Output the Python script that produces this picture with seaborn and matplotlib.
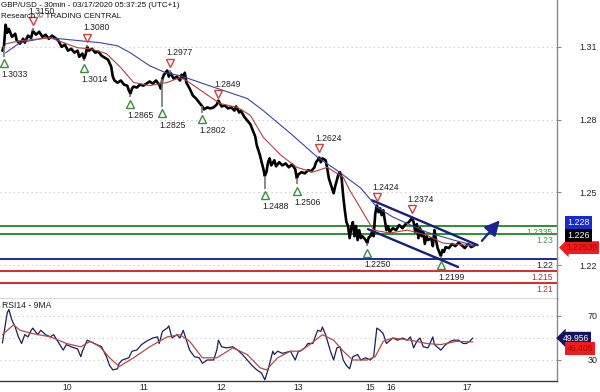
import numpy as np
import pandas as pd
import matplotlib
matplotlib.use("Agg")
import matplotlib.pyplot as plt
import seaborn as sns
from matplotlib.transforms import ScaledTranslation, blended_transform_factory

sns.set_style("white")
plt.rcParams['font.family'] = ['Liberation Sans', 'DejaVu Sans']

# ---------------- data ----------------
title = "GBP/USD - 30min - 03/17/2020 05:37:25 (UTC+1)"
subtitle = "Research \u00a9 TRADING CENTRAL"

price_bar = [0,1,2,3,4,6,8,9,11,13,14,16,18,19,21,23,25,27,29,31,33,35,37,39,41,43,45,47,48,50,
             51,52,53,54,56,58,60,62,64,66,68,69,70,72,74,76,78,79,80,81,82,84,86,88,90,92,94,96,98,99,
             100,101,103,104,105,107,109,111,112,113,114,115,117,119,121,123,125,126,128,130,132,134,135,137,139,141,143,145,146,148,
             149,151,153,155,156,158,159,161,162,163,164,165,166,167,168,170,171,173,175,177,179,181,183,184,185,187,189,191,193,195,
             196,197,198,199,200,202,203,204,206,207,208,209,210,211,212,213,214,215,216,217,218,219,220,221,222,223,224,225,227,228,
             229,230,231,232,233,234,235,236,237,238,239,240,241,242,244,246,248,250,252,254,256,257,258,259,260,261,262,263,264,265,
             266,268,269,270,271,272,273,274,275,276,277,279,281,283,285,287,289,291,293,295]
price_close = [1.3057,1.3077,1.3164,1.3131,1.3147,1.3114,1.3127,1.3098,1.3086,1.3106,1.3090,1.3119,1.3110,1.3139,1.3123,1.3135,1.3114,1.3123,1.3106,1.3119,
               1.3110,1.3098,1.3073,1.3082,1.3057,1.3065,1.3049,1.3057,1.3032,1.3045,1.3024,1.3040,1.3073,1.3057,1.3065,1.3049,1.3053,1.3036,1.3028,1.3020,
               1.2991,1.2950,1.2934,1.2925,1.2934,1.2917,1.2913,1.2893,1.2880,1.2901,1.2909,1.2905,1.2917,1.2913,1.2921,1.2930,1.2921,1.2934,1.2917,1.2901,
               1.2942,1.2958,1.2975,1.2950,1.2966,1.2942,1.2950,1.2934,1.2958,1.2946,1.2966,1.2925,1.2901,1.2872,1.2860,1.2843,1.2827,1.2815,1.2823,1.2819,
               1.2823,1.2835,1.2851,1.2827,1.2831,1.2819,1.2823,1.2810,1.2827,1.2802,1.2810,1.2786,1.2769,1.2753,1.2736,1.2703,1.2666,1.2625,1.2597,1.2572,
               1.2540,1.2556,1.2597,1.2613,1.2584,1.2605,1.2580,1.2597,1.2584,1.2592,1.2576,1.2588,1.2568,1.2531,1.2547,1.2556,1.2551,1.2564,1.2560,1.2576,
               1.2597,1.2605,1.2617,1.2597,1.2613,1.2605,1.2572,1.2531,1.2490,1.2469,1.2498,1.2523,1.2547,1.2556,1.2531,1.2457,1.2399,1.2350,1.2334,1.2284,
               1.2325,1.2350,1.2292,1.2334,1.2276,1.2317,1.2284,1.2292,1.2276,1.2264,1.2288,1.2292,1.2309,1.2292,1.2383,1.2420,1.2391,1.2407,1.2379,1.2399,
               1.2358,1.2317,1.2334,1.2309,1.2325,1.2317,1.2338,1.2325,1.2342,1.2350,1.2366,1.2350,1.2309,1.2342,1.2284,1.2325,1.2292,1.2309,1.2260,1.2292,
               1.2276,1.2284,1.2251,1.2317,1.2276,1.2243,1.2227,1.2210,1.2235,1.2227,1.2247,1.2243,1.2260,1.2251,1.2264,1.2255,1.2243,1.2260,1.2247,1.22536]

ma_fast_bar = [2,11,30,47,55,65,74,82,92,103,111,115,124,136,147,155,163,174,184,194,203,213,217,222,227,232,242,253,265,275,290,295]
ma_fast = [1.3085,1.3098,1.3110,1.3069,1.3065,1.3045,1.2987,1.2926,1.2913,1.2926,1.2946,1.2934,1.2893,1.2839,1.2823,1.2790,
           1.2700,1.2626,1.2576,1.2556,1.2576,1.2535,1.2482,1.2428,1.2371,1.2317,1.2305,1.2317,1.2297,1.2264,1.2255,1.2251]
ma_slow_bar = [2,11,27,36,61,72,80,92,102,111,138,153,163,180,197,209,224,234,244,265,282,294]
ma_slow = [1.3048,1.3090,1.3110,1.3106,1.3090,1.3077,1.3048,1.2995,1.2966,1.2954,1.2893,1.2860,1.2810,1.2716,1.2617,1.2564,
           1.2490,1.2412,1.2371,1.2309,1.2276,1.2255]

pivot_low_bar = [1,51,80,100,125,164,184,228,274]
pivot_low = [1.3033,1.3014,1.2865,1.2825,1.2802,1.2488,1.2506,1.2250,1.2199]
pivot_high_bar = [19,53,105,135,198,234,256]
pivot_high = [1.3150,1.3080,1.2977,1.2849,1.2624,1.2424,1.2374]

levels = [1.2335, 1.23, 1.22, 1.215, 1.21]
level_labels = ["1.2335", "1.23", "1.22", "1.215", "1.21"]
level_colors = ["#2f8f2f", "#2f8f2f", "#1c2a9a", "#d42a2a", "#d42a2a"]
level_text_colors = ["#4a9a4a", "#4a9a4a", "#222244", "#a83a32", "#a83a32"]

channel_upper_bar = [231, 297]
channel_upper = [1.2440, 1.2255]
channel_lower_bar = [228.5, 284.75]
channel_lower = [1.2321, 1.2165]
arrow_bar = [298.5, 312]
arrow_price = [1.2264, 1.2366]

last_price = 1.22536
box_blue, box_black = 1.228, 1.226

rsi_bar = [0,3,4,6,8,10,12,14,16,18,19,22,24,27,30,32,35,38,40,43,47,49,50,53,56,59,62,65,67,69,
           72,73,75,79,81,84,87,90,94,97,98,100,103,104,106,109,111,113,115,117,120,123,125,128,132,134,135,137,140,144,
           147,150,153,156,159,162,164,166,169,170,172,175,180,183,185,186,189,191,194,197,199,200,202,205,207,209,211,213,215,217,
           219,222,224,227,230,232,234,236,238,240,244,247,250,253,255,257,259,261,263,266,269,270,274,277,280,282,285,288,290,292,294]
rsi = [45.5,72.7,76,66,60,51,45,53,51,57,59,53,57,53,51,53,46,39,44,42,40,33,38,48,46,44,42,33,25,21,
       22,27,30,32,38,39,44,47,50,51,45,56,59,61,50,53,50,57,48,39,33,32,27,30,30,39,48,42,41,42,
       39,35,30,25,21,18,12,21,38,35,38,36,38,30,38,38,41,45,45,57,56,60,53,38,30,41,42,30,25,22,
       33,35,30,32,30,33,59,57,54,45,50,48,50,48,51,41,47,50,42,41,51,44,39,44,47,48,48,45,45,47,49.956]
rsi_ma_bar = [0,7,11,19,30,40,49,55,61,67,73,82,92,103,111,117,125,134,144,153,161,165,172,180,186,192,200,207,213,219,
              228,233,238,244,255,265,274,284,294]
rsi_ma = [53,62,57,54,51,45,42,47,42,32,24,32,42,51,53,47,32,32,41,35,23,21,32,38,38,44,53,48,38,30,
          30,33,47,50,48,45,44,47,46.405]

day_bars = [36, 84, 132, 180, 225, 238, 286]
day_labels = ["10", "11", "12", "13", "15", "16", "17"]
price_ticks = [1.22, 1.25, 1.28, 1.31]
rsi_ticks = [30, 50, 70]

# ---------------- figure ----------------
W, H = 600, 392
fig = plt.figure(figsize=(W / 100, H / 100), dpi=100)
ax = fig.add_axes([0, 93 / H, 557 / W, 299 / H])
ax2 = fig.add_axes([0, 11 / H, 557 / W, 82 / H])

# drawn layer sits a few pixels above the tick scale, as in the original
off = ax.transData + ScaledTranslation(0, 6.5 / 100, fig.dpi_scale_trans)
hoff = blended_transform_factory(ax.transAxes, off)

ax.set_xlim(-1.5, 346.6)
ax.set_ylim(1.20598, 1.32928)
ax2.set_xlim(-1.5, 346.6)
ax2.set_ylim(10.9, 85.45)

for a in (ax, ax2):
    for s in ("left", "top"):
        a.spines[s].set_visible(False)
    a.spines["right"].set_color("#8a8a8a")
    a.spines["right"].set_linewidth(1.0)
    a.spines["bottom"].set_color("#3a3a3a")
    a.spines["bottom"].set_linewidth(1.0)
    a.yaxis.tick_right()
    a.grid(False)

# grid
for t in price_ticks:
    ax.axhline(t, color="#c4c4c4", lw=0.8, ls=(0, (1, 3)), zorder=1)
for t in rsi_ticks:
    ax2.axhline(t, color="#c4c4c4", lw=0.8, ls=(0, (1, 3)), zorder=1)

# levels
for lv, lab, c, tc in zip(levels, level_labels, level_colors, level_text_colors):
    ln = ax.axhline(lv, color=c, lw=1.4, zorder=2)
    ln.set_transform(hoff)
    ax.text(553 / 557, lv, lab, transform=blended_transform_factory(ax.transAxes, ax.transData),
            ha="right", va="center", fontsize=6.2, color=tc, zorder=6)

# channel
ax.plot(channel_upper_bar, channel_upper, color="#1a1f7a", lw=1.7, transform=off, zorder=4)
ax.plot(channel_lower_bar, channel_lower, color="#1a1f7a", lw=1.7, transform=off, zorder=4)
ax.annotate("", xy=(arrow_bar[1], arrow_price[1]), xycoords=off,
            xytext=(arrow_bar[0], arrow_price[0]), textcoords=off,
            arrowprops=dict(arrowstyle="-|>,head_length=0.9,head_width=0.45", color="#1a2390", lw=1.6),
            zorder=5)

# price
dfp = pd.DataFrame({"bar": price_bar, "close": price_close})
sns.lineplot(data=dfp, x="bar", y="close", ax=ax, color="black", lw=1.9, estimator=None, sort=False, zorder=3)
ax.lines[-1].set_transform(off)
wick_lo_close = np.interp(pivot_low_bar, price_bar, price_close)
wick_hi_close = np.interp(pivot_high_bar, price_bar, price_close)
ax.vlines(pivot_low_bar, pivot_low, wick_lo_close, color="#777777", lw=1.2, transform=off, zorder=3)
ax.vlines(pivot_high_bar, wick_hi_close, pivot_high, color="#777777", lw=1.2, transform=off, zorder=3)

# moving averages
sns.lineplot(x=ma_slow_bar, y=ma_slow, ax=ax, color="#3a44a8", lw=0.8, estimator=None, sort=False, zorder=4)
ax.lines[-1].set_transform(off)
sns.lineplot(x=ma_fast_bar, y=ma_fast, ax=ax, color="#b84040", lw=0.8, estimator=None, sort=False, zorder=4)
ax.lines[-1].set_transform(off)

# pivots
ax.plot(pivot_low_bar, pivot_low, ls="none", marker="^", ms=6, mfc="white", mec="#3c8c3c", mew=1.0, zorder=6)
ax.plot(pivot_high_bar, pivot_high, ls="none", marker="v", ms=6, mfc="white", mec="#d04040", mew=1.0, zorder=6,
        transform=ax.transData + ScaledTranslation(0, 14 / 100, fig.dpi_scale_trans))
for b, p in zip(pivot_low_bar, pivot_low):
    ax.annotate(f"{p:.4f}", xy=(b, p), xytext=(-2, -8.5), textcoords="offset points",
                ha="left", va="center", fontsize=6.2, color="#222222", zorder=6)
for b, p in zip(pivot_high_bar, pivot_high):
    ax.annotate(f"{p:.4f}", xy=(b, p), xytext=(-3, 17), textcoords="offset points",
                ha="left", va="center", fontsize=6.2, color="#222222", zorder=6)

# price axis
ax.set_xticks([])
ax.set_yticks(price_ticks, [f"{t:.2f}" for t in price_ticks], ha="right")
ax.tick_params(axis="y", length=3, color="#8a8a8a", labelsize=6.4, pad=26, labelcolor="#222222")
ax.set_xlabel("")
ax.set_ylabel("")

# price boxes
ax.annotate(f"{last_price:.5f}", xy=(566 / 557, last_price), xycoords=hoff, xytext=(0, -1.5),
            textcoords="offset points", ha="left", va="center", fontsize=6.2, color="#a00808",
            bbox=dict(boxstyle="larrow,pad=0.22", fc="#ee1c1c", ec="none"), annotation_clip=False, zorder=7)
ax.annotate(f"{box_black:.3f}", xy=(567 / 557, last_price), xycoords=hoff, xytext=(0, 7.5),
            textcoords="offset points", ha="left", va="center", fontsize=6.4, color="white",
            bbox=dict(boxstyle="square,pad=0.25", fc="black", ec="none"), annotation_clip=False, zorder=7)
ax.annotate(f"{box_blue:.3f}", xy=(567 / 557, last_price), xycoords=hoff, xytext=(0, 16.5),
            textcoords="offset points", ha="left", va="center", fontsize=6.4, color="white",
            bbox=dict(boxstyle="square,pad=0.25", fc="#1a2acc", ec="none"), annotation_clip=False, zorder=7)

# RSI
sns.lineplot(x=rsi_bar, y=rsi, ax=ax2, color="#1e1e5a", lw=0.9, estimator=None, sort=False, zorder=3)
sns.lineplot(x=rsi_ma_bar, y=rsi_ma, ax=ax2, color="#b84848", lw=0.9, estimator=None, sort=False, zorder=4)
ax2.set_yticks(rsi_ticks, ["30", "", "70"], ha="right")
ax2.tick_params(axis="y", length=3, color="#8a8a8a", labelsize=6.4, pad=26, labelcolor="#222222")
ax2.set_xticks(day_bars, [""] * len(day_bars))
ax2.tick_params(axis="x", length=4, color="#555555", direction="out")
ax2.set_xlabel("")
ax2.set_ylabel("")
xb = blended_transform_factory(ax2.transData, ax2.transAxes)
for b, lab in zip(day_bars, day_labels):
    ax2.annotate(lab, xy=(b, 0), xycoords=xb, xytext=(2, -1.5), textcoords="offset points",
                 ha="left", va="top", fontsize=6.2, color="#222222", annotation_clip=False)

rtr = blended_transform_factory(ax2.transAxes, ax2.transData)
ax2.annotate(f"{rsi[-1]:.3f}", xy=(563 / 557, rsi[-1]), xycoords=rtr,
             xytext=(0, 0), textcoords="offset points", ha="left", va="center", fontsize=6.2, color="white",
             bbox=dict(boxstyle="larrow,pad=0.2", fc="#14145e", ec="none"), annotation_clip=False, zorder=7)
ax2.annotate(f"{rsi_ma[-1]:.3f}", xy=(567 / 557, rsi[-1]), xycoords=rtr,
             xytext=(0, -7.5), textcoords="offset points", ha="left", va="center", fontsize=6.2, color="#a00808",
             bbox=dict(boxstyle="square,pad=0.2", fc="#ee1c1c", ec="none"), annotation_clip=False, zorder=7)

ax2.text(2 / 557, 1 - 7 / 82, "RSI14 - 9MA", transform=ax2.transAxes, ha="left", va="center",
         fontsize=6.2, color="#222222")

# titles
fig.text(1 / W, 1 - 5.5 / H, title, ha="left", va="center", fontsize=5.8, color="#111111", zorder=10)
fig.text(1 / W, 1 - 16 / H, subtitle, ha="left", va="center", fontsize=5.8, color="#111111", zorder=10)

fig.savefig("out.png", dpi=100)
